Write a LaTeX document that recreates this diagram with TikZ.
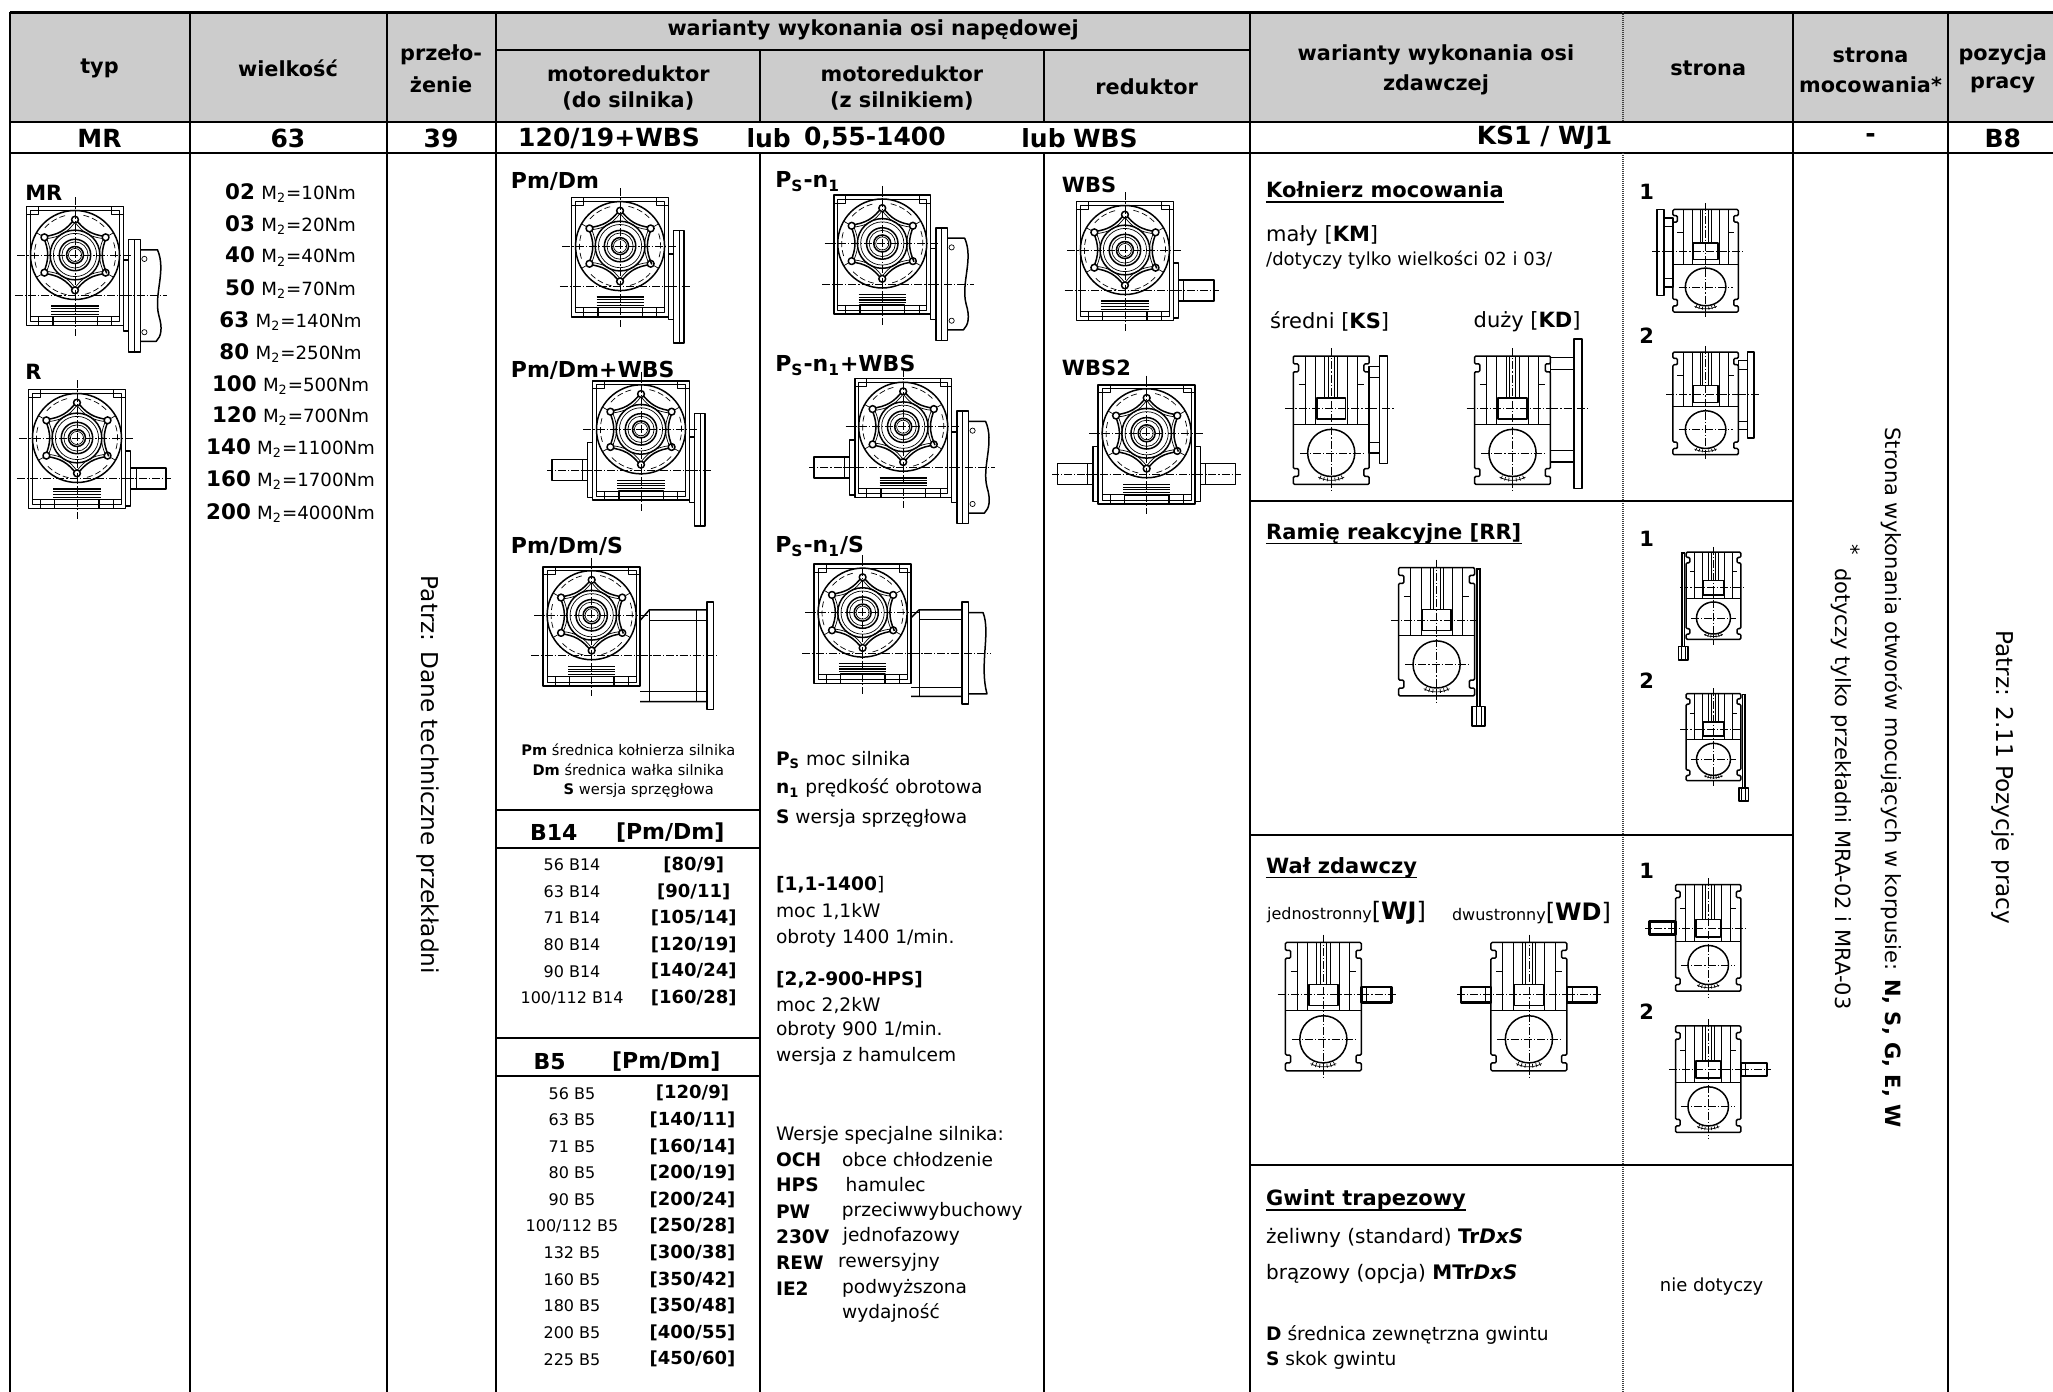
\documentclass[tikz,border=0pt]{standalone}
\usepackage{fontspec}
\setmainfont{DejaVu Sans}
\usetikzlibrary{calc}
\newcommand\myfs[1]{\fontsize{#1}{#1}\selectfont}
\definecolor{hdrgray}{RGB}{204,204,204}
\tikzset{
  fw/.style={line width=0.75pt},
  tn/.style={line width=0.35pt},
  cl/.style={line width=0.35pt, dash pattern=on 4pt off 1pt on 0.6pt off 1pt},
  grid/.style={line width=1.1pt},
  dotl/.style={line width=0.7pt, black!75, dash pattern=on 0.5pt off 0.5pt},
  tc/.style={inner sep=0pt},
  tw/.style={inner sep=0pt, anchor=west},
  pics/front/.style={code={
    \draw[fw] (-37,-37) rectangle (37,54);
    \draw[tn] (-34,-34) rectangle (34,51);
    \draw[tn] (-37,-31) -- (-28,-31) -- (-28,-37);
    \draw[tn] (37,-31) -- (28,-31) -- (28,-37);
    \draw[tn] (-34,47) -- (34,47);
    \draw[fw] (-17,47) rectangle (17,54);
    \draw[tn] (-28,47) -- (-28,54);
    \draw[tn] (28,47) -- (28,54);
    \fill[white] (0,0) circle (34);
    \draw[fw] (0,0) circle (34);
    \foreach \a in {30,90,...,330}{
      \draw[fw] (\a:28) .. controls ({\a+20}:20) and ({\a+40}:20) .. ({\a+60}:28);
      \draw[tn] (\a:25) .. controls ({\a+20}:18) and ({\a+40}:18) .. ({\a+60}:25);
      \draw[tn,dash pattern=on 3pt off 1.5pt] ({\a+12}:31) arc ({\a+12}:{\a+48}:31);
      \fill[white] (\a:27) circle (2.6);
      \draw[fw] (\a:27) circle (2.6);
      \draw[tn] (\a:34) -- (\a:30);
    }
    \draw[fw] (0,0) circle (19);
    \draw[tn] (0,0) circle (16.5);
    \draw[fw] (0,0) circle (12);
    \draw[tn] (0,0) circle (10);
    \draw[fw] (0,0) circle (6.5);
    \draw[tn] (0,0) circle (5);
    \draw[fw] (-18,39) -- (18,39);
    \draw[tn] (-18,41) -- (18,41);
    \draw[fw] (-18,43) -- (18,43);
    \draw[tn] (-18,45) -- (18,45);
    \draw[cl] (-44,0) -- (44,0);
    \draw[cl] (0,-44) -- (0,62);
    \draw[cl] (-46,31) -- (46,31);
  }},
  pics/motorR/.style={code={
    \draw[fw] (37,4) rectangle (41,58);
    \draw[fw] (41,-12) rectangle (50,74);
    \draw[tn] (45,-12) -- (45,74);
    \draw[fw] (50,-4) -- (63,-4) .. controls (70,12) and (60,30) .. (64,46) .. controls (67,56) and (66,62) .. (62,66) -- (50,66);
    \draw[tn] (53,3) circle (2);
    \draw[tn] (53,59) circle (2);
    \draw[cl] (37,31) -- (70,31);
  }},
  pics/flangeR/.style={code={
    \draw[fw] (37,6) rectangle (41,56);
    \draw[fw] (41,-12) rectangle (49,74);
    \draw[tn] (45,-12) -- (45,74);
    \draw[cl] (37,31) -- (54,31);
  }},
  pics/shaftR/.style={code={
    \draw[fw] (37,10) rectangle (41,52);
    \draw[fw] (41,23) rectangle (68,39);
    \draw[tn] (45,23) -- (45,39);
    \draw[cl] (37,31) -- (72,31);
  }},
  pics/couplingR/.style={code={
    \draw[fw] (37,4) -- (44,-4) -- (88,-4) -- (88,66) -- (37,66);
    \draw[tn] (44,4) -- (88,4);
    \draw[tn] (37,58) -- (88,58);
    \draw[tn] (44,-4) -- (44,66);
    \draw[tn] (80,-4) -- (80,66);
    \draw[fw] (88,-10) rectangle (93,72);
    \draw[cl] (37,31) -- (97,31);
  }},
  pics/couplingM/.style={code={
    \draw[fw] (37,4) -- (43,-2) -- (76,-2) -- (76,64) -- (37,64);
    \draw[tn] (43,5) -- (76,5);
    \draw[tn] (37,57) -- (76,57);
    \draw[tn] (43,-2) -- (43,64);
    \draw[fw] (76,-8) rectangle (81,70);
    \draw[fw] (81,0) -- (92,0) .. controls (98,15) and (89,40) .. (95,62) -- (81,62);
    \draw[cl] (37,31) -- (98,31);
  }},
  pics/side/.style={code={
    \draw[fw,rounded corners=0.6] (-29,-40) -- (29,-40) -- (29,-34) -- (25,-34) -- (25,-28) -- (29,-28) -- (29,46) -- (25,46) -- (25,52) -- (29,52) -- (29,58) -- (-29,58) -- (-29,52) -- (-25,52) -- (-25,46) -- (-29,46) -- (-29,-28) -- (-25,-28) -- (-25,-34) -- (-29,-34) -- cycle;
    \draw[tn] (-29,12) -- (29,12);
    \foreach \xx in {-20,-12,12,20} \draw[tn] (\xx,-40) -- (\xx,12);
    \foreach \xx in {-5,-2.5,2.5,5} \draw[tn] (\xx,-40) -- (\xx,-8);
    \draw[tn] (-25,-18) -- (-20,-18);
    \draw[tn] (20,-18) -- (25,-18);
    \fill[white] (-11,-8) rectangle (11,8);
    \draw[fw] (-11,-8) rectangle (11,8);
    \draw[fw] (0,34) circle (18);
    \draw[tn] (0,34) ++(62:21) arc (62:118:21);
    \foreach \ang in {66,74,...,114} \draw[tn] ($(0,34)+(\ang:19)$) -- ($(0,34)+(\ang:22)$);
    \draw[cl] (-35,0) -- (35,0);
    \draw[cl] (-24,34) -- (24,34);
    \draw[cl] (0,-46) -- (0,64);
  }},
  pics/sflS/.style={code={
    \draw[fw] (29,-32) rectangle (37,34);
    \draw[tn] (29,-24) -- (37,-24);
    \draw[tn] (29,26) -- (37,26);
    \draw[fw] (37,-40) rectangle (43,42);
    \draw[cl] (29,0) -- (48,0);
  }},
  pics/sflD/.style={code={
    \draw[fw] (29,-39) rectangle (47,41);
    \draw[tn] (29,-30) -- (47,-30);
    \draw[tn] (29,32) -- (47,32);
    \draw[fw] (47,-53) rectangle (53,61);
    \draw[cl] (29,0) -- (58,0);
  }},
  pics/sarm/.style={code={
    \fill (30,-40) rectangle (34,80);
    \draw[white,line width=0.3pt] (32,-38) -- (32,66);
    \draw[fw,fill=white] (27,66) rectangle (37,81);
    \draw[tn] (30,66) -- (30,81);
    \draw[tn] (34,66) -- (34,81);
  }},
  pics/sshaft/.style={code={
    \draw[line width=1.2pt] (29,-6) rectangle (52,6);
    \draw[tn] (33,-6) -- (33,6);
    \draw[cl] (29,0) -- (56,0);
  }}
}
\begin{document}
\begin{tikzpicture}[x=0.6545pt,y=-0.6545pt,line join=round]
\useasboundingbox (0,0) rectangle (1568.4,1063.4);
% ---------- grid ----------
\fill[hdrgray] (7.5,9.5) rectangle (1568.4,93);
\draw[grid] (7.5,9.5) -- (1568.4,9.5);
\draw[grid] (7.5,93) -- (1568.4,93);
\draw[grid] (7.5,117) -- (1568.4,117);
\draw[grid] (379,38.5) -- (955,38.5);
\foreach \x in {7.5,145,295.5,379,955,1370,1488} \draw[grid] (\x,9.5) -- (\x,1063.4);
\foreach \x in {580.5,797.5} {\draw[grid] (\x,38.5) -- (\x,93); \draw[grid] (\x,117) -- (\x,1063.4);}
\draw[dotl] (1240,9.5) -- (1240,93);
\draw[dotl] (1240,117) -- (1240,1063.4);
\foreach \y in {383,638,890} \draw[grid] (955,\y) -- (1370,\y);
\foreach \y in {619,648,793,822} \draw[grid] (379,\y) -- (580.5,\y);
% ---------- header ----------
\begin{scope}[every node/.style={tc,font=\bfseries\myfs{10.4}}]
\node (htyp) at (76,52) {typ};
\node (hwlk) at (220,52) {wielkość};
\node (hprz1) at (337,42) {przeło-};
\node (hprz2) at (337,65) {żenie};
\node (hwn) at (667,23) {warianty wykonania osi napędowej};
\node (hmr1a) at (480,56) {motoreduktor};
\node (hmr1b) at (480,77) {(do silnika)};
\node (hmr2a) at (689,56) {motoreduktor};
\node (hmr2b) at (689,77) {(z silnikiem)};
\node (hred) at (876,66) {reduktor};
\node (hwz1) at (1097,42) {warianty wykonania osi};
\node (hwz2) at (1097,65) {zdawczej};
\node (hstr) at (1305,52) {strona};
\node (hsm1) at (1429,42) {strona};
\node (hsm2) at (1429,65) {mocowania*};
\node (hpp1) at (1530,42) {pozycja};
\node (hpp2) at (1530,65) {pracy};
\end{scope}
% ---------- data row ----------
\begin{scope}[every node/.style={tc,font=\bfseries\myfs{12.5}}]
\node (dmr) at (76,105.5) {MR};
\node (d63) at (220,105.5) {63};
\node (d39) at (337,105.5) {39};
\node[anchor=west] (dv1) at (395.6,105.5) {120/19+WBS};
\node[anchor=west] (dl1) at (570,105.5) {lub};
\node[anchor=west] (dv2) at (614,105.5) {0,55-1400};
\node[anchor=west] (dl2) at (780,105.5) {lub};
\node[anchor=west] (dv3) at (819.5,105.5) {WBS};
\node (dks) at (1180,105.5) {KS1 / WJ1};
\node (ddash) at (1429,105.5) {-};
\node (db8) at (1530,105.5) {B8};
\end{scope}
% ---------- typ ----------
\node[tw,font=\bfseries\myfs{10.5}] (lmr) at (19,147.5) {MR};
\pic at (57.3,194.8) {front};
\pic at (57.3,194.8) {motorR};
\node[tw,font=\bfseries\myfs{10.5}] (lr) at (19,284) {R};
\pic at (58.8,334.6) {front};
\pic at (58.8,334.6) {shaftR};
% ---------- wielkosc ----------
\foreach \wa/\wb/\wy [count=\i] in {02/10/147.7,03/20/171.9,40/40/196,50/70/221,63/140/245,80/250/270,100/500/294,120/700/318,140/1100/342.5,160/1700/366.7,200/4000/391.7}
  \node[tc] (w\i) at (222,\wy) {{\bfseries\myfs{10.7}\wa} {\myfs{9.1}M\textsubscript{2}=\wb Nm}};
% ---------- przelozenie ----------
\node[tc,rotate=-90,font=\myfs{11.6}] (pdt) at (327,592) {Patrz: Dane techniczne przekładni};
% ---------- do silnika ----------
\node[tw,font=\bfseries\myfs{11}] (lpm1) at (390,139) {Pm/Dm};
\pic at (473.7,188) {front};
\pic at (473.7,188) {flangeR};
\node[tw,font=\bfseries\myfs{11}] (lpm2) at (390,282.7) {Pm/Dm+WBS};
\pic at (489.7,328) {front};
\pic at (489.7,328) {flangeR};
\pic[xscale=-1] at (489.7,328) {shaftR};
\node[tw,font=\bfseries\myfs{11}] (lpm3) at (390,417.6) {Pm/Dm/S};
\pic at (452,470) {front};
\pic at (452,470) {couplingR};
\node[tc,font=\myfs{7.3}] (lg1) at (480,573) {\textbf{Pm} średnica kołnierza silnika};
\node[tc,font=\myfs{7.3}] (lg2) at (480,588) {\textbf{Dm} średnica wałka silnika};
\node[tc,font=\myfs{7.3}] (lg3) at (488,604) {\textbf{S} wersja sprzęgłowa};
\node[tc,font=\bfseries\myfs{11}] (b14h) at (423,636) {B14};
\node[tc,font=\bfseries\myfs{11}] (b14p) at (512,636) {[Pm/Dm]};
\foreach \l/\r [count=\i] in {56 B14/80\slash 9,63 B14/90\slash 11,71 B14/105\slash 14,80 B14/120\slash 19,90 B14/140\slash 24,100\slash 112 B14/160\slash 28}{
  \node[tc,font=\myfs{8}] (bl\i) at (437,{660.8+20.3*(\i-1)}) {\l};
  \node[tc,font=\bfseries\myfs{9}] (br\i) at (530,{660.8+20.3*(\i-1)}) {[\r]};
}
\node[tc,font=\bfseries\myfs{11}] (b5h) at (420,811) {B5};
\node[tc,font=\bfseries\myfs{11}] (b5p) at (509,811) {[Pm/Dm]};
\foreach \l/\r [count=\i] in {56 B5/120\slash 9,63 B5/140\slash 11,71 B5/160\slash 14,80 B5/200\slash 19,90 B5/200\slash 24,100\slash 112 B5/250\slash 28,132 B5/300\slash 38,160 B5/350\slash 42,180 B5/350\slash 48,200 B5/400\slash 55,225 B5/450\slash 60}{
  \node[tc,font=\myfs{8}] (cl\i) at (437,{835.2+20.32*(\i-1)}) {\l};
  \node[tc,font=\bfseries\myfs{9}] (cr\i) at (529,{835.2+20.32*(\i-1)}) {[\r]};
}
% ---------- z silnikiem ----------
\node[tw,font=\bfseries\myfs{11}] (lps1) at (592,139) {P\textsubscript{S}-n\textsubscript{1}};
\pic at (674,186) {front};
\pic at (674,186) {motorR};
\node[tw,font=\bfseries\myfs{11}] (lps2) at (592,279) {P\textsubscript{S}-n\textsubscript{1}+WBS};
\pic at (690,326) {front};
\pic at (690,326) {motorR};
\pic[xscale=-1] at (690,326) {shaftR};
\node[tw,font=\bfseries\myfs{11}] (lps3) at (592,417.6) {P\textsubscript{S}-n\textsubscript{1}/S};
\pic at (659,468) {front};
\pic at (659,468) {couplingM};
\begin{scope}[every node/.style={tw,font=\myfs{9.3}}]
\node (zs1) at (592.6,580.6) {\textbf{P\textsubscript{S}} moc silnika};
\node (zs2) at (592.6,602.2) {\textbf{n\textsubscript{1}} prędkość obrotowa};
\node (zs3) at (592.6,625) {\textbf{S} wersja sprzęgłowa};
\node (zs4) at (592.6,676) {\textbf{[1,1-1400}]};
\node (zs5) at (592.6,696.5) {moc 1,1kW};
\node (zs6) at (592.6,716.8) {obroty 1400 1/min.};
\node (zs7) at (592.6,748.7) {\textbf{[2,2-900-HPS]}};
\node (zs8) at (592.6,767.8) {moc 2,2kW};
\node (zs9) at (592.6,786.9) {obroty 900 1/min.};
\node (zs10) at (592.6,807.2) {wersja z hamulcem};
\node (zs11) at (592.6,867) {Wersje specjalne silnika:};
\node[font=\bfseries\myfs{9.3}] (k1) at (592.6,885.7) {OCH};
\node (v1) at (643,885.7) {obce chłodzenie};
\node[font=\bfseries\myfs{9.3}] (k2) at (592.6,905.3) {HPS};
\node (v2) at (645.8,905.3) {hamulec};
\node[font=\bfseries\myfs{9.3}] (k3) at (592.6,925.7) {PW};
\node (v3) at (642.8,925.7) {przeciwwybuchowy};
\node[font=\bfseries\myfs{9.3}] (k4) at (592.6,944.8) {230V};
\node (v4) at (643.6,944.8) {jednofazowy};
\node[font=\bfseries\myfs{9.3}] (k5) at (592.6,964.6) {REW};
\node (v5) at (640,964.6) {rewersyjny};
\node[font=\bfseries\myfs{9.3}] (k6) at (592.6,984.2) {IE2};
\node (v6) at (643,984.2) {podwyższona};
\node (v7) at (643,1003.3) {wydajność};
\end{scope}
% ---------- reduktor ----------
\node[tw,font=\bfseries\myfs{10.5}] (lw1) at (811,141.3) {WBS};
\pic at (859.4,191) {front};
\pic at (859.4,191) {shaftR};
\node[tw,font=\bfseries\myfs{10.5}] (lw2) at (811,281.4) {WBS2};
\pic at (876,331) {front};
\pic at (876,331) {shaftR};
\pic[xscale=-1] at (876,331) {shaftR};
% ---------- zdawcza ----------
\node[tw,font=\bfseries\myfs{10.5}] (t1) at (967,145) {Kołnierz mocowania};
\draw[line width=0.9pt] ([yshift=-2.2pt]t1.base west) -- ([yshift=-2.2pt]t1.base east);
\node[tw,font=\myfs{10.5}] (km) at (967,180) {mały [\textbf{KM}]};
\node[tw,font=\myfs{9}] (kmd) at (967,198.5) {/dotyczy tylko wielkości 02 i 03/};
\node[tw,font=\myfs{10.5}] (ks) at (970,245.7) {średni [\textbf{KS}]};
\node[tw,font=\myfs{10.5}] (kd) at (1125.5,245.7) {duży [\textbf{KD}]};
\pic at (1017,312) {side};
\pic at (1017,312) {sflS};
\pic at (1155.5,312) {side};
\pic at (1155.5,312) {sflD};
\node[tw,font=\bfseries\myfs{10.5}] (t2) at (967,407.5) {Ramię reakcyjne [RR]};
\draw[line width=0.9pt] ([yshift=-2.2pt]t2.base west) -- ([yshift=-2.2pt]t2.base east);
\pic at (1097.5,473.6) {side};
\pic at (1097.5,473.6) {sarm};
\node[tw,font=\bfseries\myfs{10.5}] (t3) at (967,662.7) {Wał zdawczy};
\draw[line width=0.9pt] ([yshift=-2.2pt]t3.base west) -- ([yshift=-2.2pt]t3.base east);
\node[tw] (wj) at (967.7,697.6) {{\myfs{8}jednostronny}{\myfs{12}[\textbf{WJ}]}};
\node[tw] (wd) at (1109,697.6) {{\myfs{8}dwustronny}{\myfs{12}[\textbf{WD}]}};
\pic at (1011,760) {side};
\pic at (1011,760) {sshaft};
\pic at (1168,760) {side};
\pic at (1168,760) {sshaft};
\pic[xscale=-1] at (1168,760) {sshaft};
\node[tw,font=\bfseries\myfs{10.5}] (t4) at (967,916.5) {Gwint trapezowy};
\draw[line width=0.9pt] ([yshift=-2.2pt]t4.base west) -- ([yshift=-2.2pt]t4.base east);
\node[tw,font=\myfs{10}] (g1) at (967,945.7) {żeliwny (standard) \textbf{Tr\textit{DxS}}};
\node[tw,font=\myfs{10}] (g2) at (967,973.5) {brązowy (opcja) \textbf{MTr\textit{DxS}}};
\node[tw,font=\myfs{9.3}] (g3) at (967,1019.6) {\textbf{D} średnica zewnętrzna gwintu};
\node[tw,font=\myfs{9.3}] (g4) at (967,1039) {\textbf{S} skok gwintu};
% ---------- strona ----------
\begin{scope}[every node/.style={tc,font=\bfseries\myfs{10.5}}]
\node (n1) at (1258,146.7) {1};
\node (n2) at (1258,256.5) {2};
\node (n3) at (1258,411.7) {1};
\node (n4) at (1258,520) {2};
\node (n5) at (1258,665) {1};
\node (n6) at (1258,773) {2};
\end{scope}
\pic[xscale=0.86,yscale=0.8] at (1303,192) {side};
\pic[xscale=-0.86,yscale=0.8] at (1303,192) {sflS};
\pic[xscale=0.86,yscale=0.8] at (1303,301) {side};
\pic[xscale=0.86,yscale=0.8] at (1303,301) {sflS};
\pic[xscale=0.72,yscale=0.68] at (1309,449) {side};
\pic[xscale=-0.72,yscale=0.68] at (1309,449) {sarm};
\pic[xscale=0.72,yscale=0.68] at (1309,557) {side};
\pic[xscale=0.72,yscale=0.68] at (1309,557) {sarm};
\pic[xscale=0.86,yscale=0.83] at (1305,709) {side};
\pic[xscale=-0.86,yscale=0.83] at (1305,709) {sshaft};
\pic[xscale=0.86,yscale=0.83] at (1305,817) {side};
\pic[xscale=0.86,yscale=0.83] at (1305,817) {sshaft};
\node[tc,font=\myfs{9}] (nd) at (1307.6,983) {nie dotyczy};
% ---------- mocowania / pozycja ----------
\node[tc,rotate=-90,font=\myfs{10.5}] (smt) at (1445,594) {Strona wykonania otworów mocujących w korpusie: \textbf{N, S, G, E, W}};
\node[tc,rotate=-90,font=\myfs{10.5}] (sst) at (1414.7,420) {*};
\node[tc,rotate=-90,font=\myfs{10.5}] (sdt) at (1407,602.6) {dotyczy tylko przekładni MRA-02 i MRA-03};
\node[tc,rotate=-90,font=\myfs{11.6}] (ppt) at (1530,594) {Patrz: 2.11 Pozycje pracy};
\end{tikzpicture}
\end{document}
